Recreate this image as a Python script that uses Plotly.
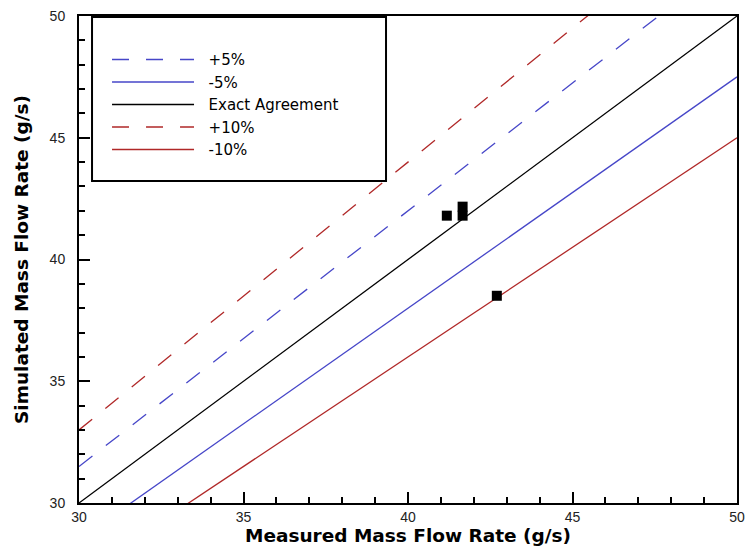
import plotly.graph_objects as go

# Reference lines (measured vs simulated), endpoints at x = 30 and x = 50
line_x = [30, 50]
plus5_y = [31.5, 52.5]
minus5_y = [28.5, 47.5]
exact_y = [30, 50]
plus10_y = [33, 55]
minus10_y = [27, 45]

# Measured data points
measured = [41.18, 41.66, 41.66, 42.70]
simulated = [41.80, 42.17, 41.80, 38.51]

x_ticks = [30, 35, 40, 45, 50]
y_ticks = [30, 35, 40, 45, 50]

BLUE = "#4646c8"
RED = "#b02828"
DASH = "17px,17px"
NB = "\u00a0\u00a0"

fig = go.Figure()
series = [
    ("+5%", plus5_y, BLUE, DASH),
    ("-5%", minus5_y, BLUE, "solid"),
    ("Exact Agreement", exact_y, "black", "solid"),
    ("+10%", plus10_y, RED, DASH),
    ("-10%", minus10_y, RED, "solid"),
]
for name, ys, col, dash in series:
    fig.add_trace(go.Scatter(x=line_x, y=ys, mode="lines", name=NB + name,
                             line=dict(color=col, width=1.3, dash=dash)))

fig.add_trace(go.Scatter(x=measured, y=simulated, mode="markers", showlegend=False,
                         marker=dict(symbol="square", size=10, color="black",
                                     line=dict(width=0))))

axis_common = dict(
    showgrid=False, zeroline=False, showline=True, linecolor="black", linewidth=2,
    mirror=True, ticks="inside", ticklen=11, tickwidth=1.5, tickcolor="black",
    minor=dict(ticks="inside", ticklen=6, tickwidth=1.5, tickcolor="black", dtick=1),
    tickfont=dict(family="Liberation Sans, Arial", size=14, color="#222"),
    automargin=False, ticklabeloverflow="allow",
)
title_font = dict(family="DejaVu Sans", size=18.5, color="black")

fig.update_xaxes(range=[30, 50], tickvals=x_ticks, ticktext=[str(v) for v in x_ticks],
                 ticklabelstandoff=0,
                 title=dict(text="<b>Measured Mass Flow Rate (g/s)</b>", font=title_font,
                            standoff=4),
                 **axis_common)
fig.update_yaxes(range=[30, 50], tickvals=y_ticks, ticktext=[str(v) for v in y_ticks],
                 ticklabelstandoff=9,
                 title=dict(text="<b>Simulated Mass Flow Rate (g/s)</b>", font=title_font,
                            standoff=16),
                 **axis_common)

# legend frame (paper coordinates)
fig.add_shape(type="rect", xref="paper", yref="paper",
              x0=0.0198, x1=0.4666, y0=0.661, y1=0.998,
              line=dict(color="black", width=2), fillcolor="white", layer="below")

fig.update_layout(
    width=747, height=553,
    margin=dict(l=79, r=10, t=16, b=50),
    plot_bgcolor="white", paper_bgcolor="white",
    legend=dict(x=0.0426, y=0.944, xanchor="left", yanchor="top",
                borderwidth=0, bgcolor="rgba(0,0,0,0)",
                font=dict(family="DejaVu Sans", size=15, color="black"),
                itemwidth=82, tracegroupgap=0),
)

# remove the browser's default 8px body margin so the figure fills the window
fig.write_html("out.html", config={"displayModeBar": False},
               post_script="document.body.style.margin='0';document.body.style.overflow='hidden';")
